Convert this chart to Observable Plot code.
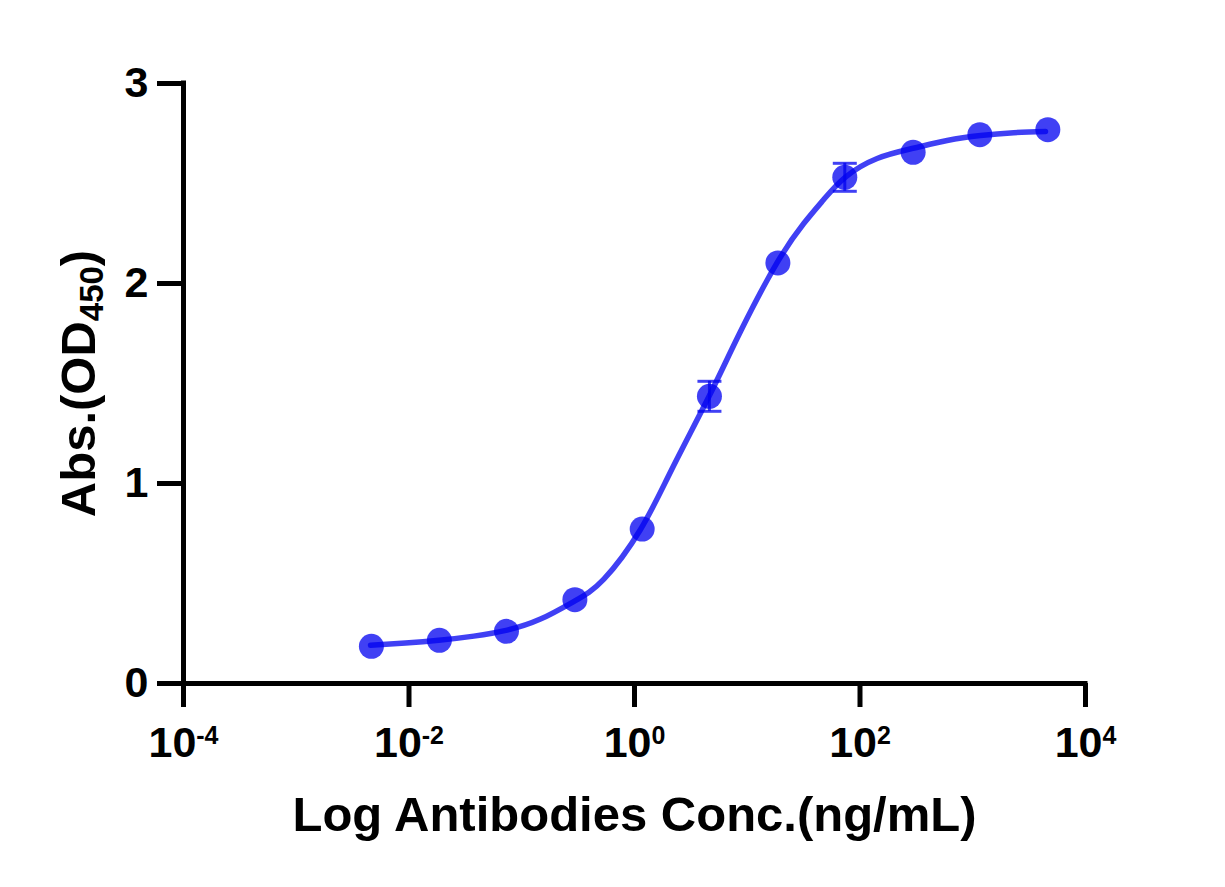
<!DOCTYPE html>
<html>
<head>
<meta charset="utf-8">
<script src="https://cdn.jsdelivr.net/npm/d3@7"></script>
<script src="https://cdn.jsdelivr.net/npm/@observablehq/plot@0.6"></script>
<style>
  html, body { margin: 0; padding: 0; background: #fff; }
  #chart svg { display: block; }
</style>
</head>
<body>
<div id="chart"></div>
<script>
// Measured data points (4-fold dilution series)
const conc = [0.00464, 0.0186, 0.0732, 0.296, 1.17, 4.62, 18.7, 73.3, 296, 1156, 4634];
const absorbance = [0.186, 0.216, 0.261, 0.419, 0.772, 1.436, 2.103, 2.531, 2.656, 2.744, 2.769];
const sem = [0.01, 0.01, 0.01, 0.015, 0.02, 0.075, 0.02, 0.07, 0.015, 0.01, 0.01];

// Fitted curve
const curveConc = [0.00456, 0.00931, 0.01837, 0.0376, 0.0743, 0.1466, 0.294, 0.535, 1.13, 2.16, 4.62, 8.71, 18.4, 31.7, 47.7, 74.3, 142, 296, 593, 1172, 2312, 4416];
const curveAbs  = [0.191, 0.202, 0.216, 0.237, 0.267, 0.322, 0.412, 0.522, 0.770, 1.075, 1.440, 1.760, 2.104, 2.300, 2.420, 2.532, 2.625, 2.676, 2.715, 2.740, 2.754, 2.760];

// Axes
const xTicks = [1e-4, 1e-2, 1, 1e2, 1e4];
const xTickExponents = ["-4", "-2", "0", "2", "4"];
const yTicks = [0, 1, 2, 3];
const xTitle = "Log Antibodies Conc.(ng/mL)";
const yTitleMain = "Abs.(OD";
const yTitleSub = "450";
const yTitleEnd = ")";

const blue = "rgb(0,0,240)";

const points = conc.map((c, i) => ({x: c, y: absorbance[i], e: sem[i]}));
const curve = curveConc.map((c, i) => ({x: c, y: curveAbs[i]}));
// Like Prism: only error bars extending beyond the symbol are shown
const bars = points.filter(d => d.e * 200 > 12);

const capSymbol = {
  draw(context) {
    context.moveTo(-12, 0);
    context.lineTo(12, 0);
  }
};

const plot = Plot.plot({
  width: 1225,
  height: 887,
  marginLeft: 183,
  marginRight: 140,
  marginTop: 83,
  marginBottom: 204,
  style: {fontFamily: "'Liberation Sans', Arial, sans-serif", fontWeight: "bold", color: "black", background: "white"},
  x: {type: "log", domain: [1e-4, 1e4]},
  y: {domain: [0, 3]},
  marks: [
    Plot.axisY({ticks: yTicks, tickSize: 26, tickPadding: 9, fontSize: 43, strokeWidth: 5, label: null, tickFormat: d => String(d)}),
    Plot.axisX({ticks: xTicks, tickSize: 24, tickPadding: 19, fontSize: 43, strokeWidth: 5, label: null,
      tickFormat: d => "10^" + xTickExponents[xTicks.indexOf(d)]}),
    Plot.ruleX([1e-4], {y1: 0, y2: 3, stroke: "black", strokeWidth: 5, strokeLinecap: "square"}),
    Plot.ruleY([0], {x1: 1e-4, x2: 1e4, stroke: "black", strokeWidth: 5, strokeLinecap: "square"}),
    Plot.line(curve, {x: "x", y: "y", stroke: blue, strokeOpacity: 0.75, strokeWidth: 5.5, curve: "natural"}),
    Plot.ruleX(bars, {x: "x", y1: d => d.y - d.e, y2: d => d.y + d.e, stroke: blue, strokeOpacity: 0.75, strokeWidth: 3}),
    Plot.dot(bars, {x: "x", y: d => d.y - d.e, symbol: capSymbol, r: 12, stroke: blue, strokeOpacity: 0.75, strokeWidth: 3, fill: "none"}),
    Plot.dot(bars, {x: "x", y: d => d.y + d.e, symbol: capSymbol, r: 12, stroke: blue, strokeOpacity: 0.75, strokeWidth: 3, fill: "none"}),
    Plot.dot(points, {x: "x", y: "y", r: 12.5, fill: blue, fillOpacity: 0.75, stroke: "none"}),
    Plot.text([xTitle], {frameAnchor: "bottom", lineAnchor: "bottom", textAnchor: "middle", dy: 147, fontSize: 49, fontWeight: "bold", fill: "black"}),
    Plot.text([yTitleMain], {frameAnchor: "left", lineAnchor: "bottom", textAnchor: "middle", rotate: -90, dx: -89, fontSize: 49, fontWeight: "bold", fill: "black"})
  ]
});

document.getElementById("chart").appendChild(plot);

const svg = d3.select(plot);
// Superscript exponents on x tick labels
svg.selectAll('g[aria-label="x-axis tick label"] text').each(function() {
  const t = d3.select(this);
  const parts = t.text().split("^");
  t.text(null);
  t.append("tspan").text(parts[0]);
  t.append("tspan").attr("font-size", 25).attr("dy", -13).text(parts[1]);
});
// Subscript in y title
svg.selectAll("text").filter(function() { return this.textContent === yTitleMain; }).each(function() {
  const t = d3.select(this);
  t.text(null);
  t.append("tspan").text(yTitleMain);
  t.append("tspan").attr("font-size", 33).attr("dy", 8).text(yTitleSub);
  t.append("tspan").attr("dy", -8).text(yTitleEnd);
});
</script>
</body>
</html>
